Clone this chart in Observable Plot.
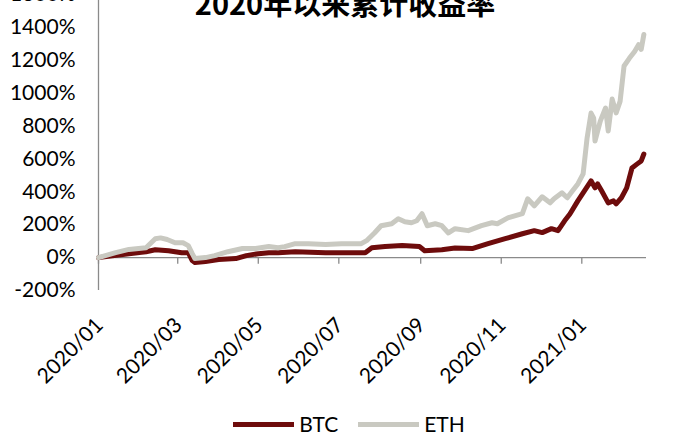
<!DOCTYPE html>
<html>
<head>
<meta charset="utf-8">
<script src="https://cdn.jsdelivr.net/npm/d3@7"></script>
<script src="https://cdn.jsdelivr.net/npm/@observablehq/plot@0.6"></script>
<style>
html, body { margin: 0; padding: 0; background: #fff; width: 698px; height: 444px; overflow: hidden; }
#wrap { position: relative; width: 698px; height: 444px; overflow: hidden; }
#title { position: absolute; left: 0; top: -12px; width: 690px; text-align: center;
  font-family: "Noto Sans CJK SC", sans-serif; font-weight: bold; font-size: 29px; line-height: 29px; color: #000; z-index: 2; }
#chart { position: absolute; left: 0; top: 0; }
#legend { position: absolute; left: 0; top: 411px; width: 698px; display: flex; justify-content: center; align-items: center;
  font-family: Lato, sans-serif; font-size: 21px; line-height: 26px; color: #000; }
.sw { display: inline-block; width: 61px; height: 5px; margin-right: 5px; }
.lab { margin-right: 20px; }
</style>
</head>
<body>
<div id="wrap">
  <div id="title">2020年以来累计收益率</div>
  <div id="chart"></div>
  <div id="legend"></div>
</div>
<script>
// ---- data ----
const seriesNames = ["BTC", "ETH"];
const seriesColors = ["#6e0c0c", "#c9c9c1"];

const btcDates = ["2020-01-01","2020-01-10","2020-01-24","2020-02-06","2020-02-13","2020-02-23","2020-03-04","2020-03-09","2020-03-12","2020-03-14","2020-03-22","2020-04-01","2020-04-14","2020-04-22","2020-05-01","2020-05-09","2020-05-16","2020-05-29","2020-06-21","2020-07-03","2020-07-21","2020-07-26","2020-08-05","2020-08-18","2020-08-31","2020-09-04","2020-09-17","2020-09-27","2020-10-10","2020-10-22","2020-11-04","2020-11-17","2020-11-26","2020-12-02","2020-12-09","2020-12-14","2020-12-19","2020-12-23","2020-12-29","2021-01-03","2021-01-08","2021-01-11","2021-01-13","2021-01-16","2021-01-21","2021-01-25","2021-01-27","2021-01-31","2021-02-04","2021-02-08","2021-02-12","2021-02-15","2021-02-17"];
const btcValues = [0,10,24,36,48,42,30,30,-18,-30,-24,-12,-6,12,24,30,30,36,30,30,30,60,67,73,67,42,48,58,55,85,115,145,164,152,176,164,224,265,345,406,467,424,448,406,333,345,327,364,424,545,570,588,630];

const ethDates = ["2020-01-01","2020-01-14","2020-01-24","2020-02-06","2020-02-13","2020-02-17","2020-02-22","2020-02-28","2020-03-05","2020-03-09","2020-03-12","2020-03-14","2020-03-22","2020-03-29","2020-04-08","2020-04-19","2020-04-29","2020-05-09","2020-05-16","2020-05-21","2020-05-29","2020-06-08","2020-06-21","2020-07-03","2020-07-18","2020-07-22","2020-07-28","2020-08-02","2020-08-10","2020-08-15","2020-08-20","2020-08-25","2020-08-29","2020-09-02","2020-09-06","2020-09-12","2020-09-17","2020-09-22","2020-09-27","2020-10-07","2020-10-17","2020-10-25","2020-10-29","2020-11-06","2020-11-17","2020-11-21","2020-11-26","2020-12-02","2020-12-08","2020-12-11","2020-12-17","2020-12-21","2020-12-25","2020-12-29","2021-01-02","2021-01-05","2021-01-08","2021-01-10","2021-01-11","2021-01-15","2021-01-19","2021-01-21","2021-01-24","2021-01-27","2021-01-30","2021-02-02","2021-02-06","2021-02-10","2021-02-13","2021-02-15","2021-02-17"];
const ethValues = [0,30,50,60,115,120,110,90,90,73,24,-6,0,12,36,55,55,67,60,67,85,85,80,85,85,103,150,194,206,236,218,212,224,267,194,206,194,150,176,164,194,212,206,242,267,358,315,370,333,358,394,364,406,448,509,727,879,848,709,830,910,770,964,880,950,1165,1212,1254,1295,1266,1357];

const xTickLabels = ["2020-01-01","2020-03-01","2020-05-01","2020-07-01","2020-09-01","2020-11-01","2021-01-01"];
const yTickValues = [-200,0,200,400,600,800,1000,1200,1400,1600];
const xDomain = ["2020-01-01","2021-02-19"];
const yDomain = [-200, 1600];

// ---- build ----
const parse = d3.utcParse("%Y-%m-%d");
const rows = [
  ...btcDates.map((d, i) => ({date: parse(d), value: btcValues[i], series: "BTC"})),
  ...ethDates.map((d, i) => ({date: parse(d), value: ethValues[i], series: "ETH"}))
];
const xTicks = xTickLabels.map(parse);
const xDom = xDomain.map(parse);

const chart = Plot.plot({
  width: 698,
  height: 444,
  marginLeft: 98,
  marginRight: 52,
  marginTop: 0,
  marginBottom: 154,
  style: {fontFamily: "Lato, sans-serif", fontSize: "21px", color: "#000", background: "transparent", overflow: "visible"},
  x: {type: "utc", domain: xDom, label: null},
  y: {domain: yDomain, range: [290, -6], label: null},
  color: {domain: seriesNames, range: seriesColors},
  marks: [
    Plot.ruleX([xDom[0]], {y1: yDomain[0], y2: yDomain[1], stroke: "#8a8a8a", strokeWidth: 1.3}),
    Plot.ruleY([0], {stroke: "#8a8a8a", strokeWidth: 1.3}),
    Plot.ruleX(xTicks, {y1: 0, y2: -40, stroke: "#8a8a8a", strokeWidth: 1.3}),
    Plot.axisY({ticks: yTickValues, tickSize: 0, tickPadding: 23, tickFormat: d => d + "%", fontSize: 21, label: null}),
    Plot.axisX({ticks: xTicks, tickSize: 0, tickPadding: 31, tickRotate: -45, tickFormat: d3.utcFormat("%Y/%m"), fontSize: 21, dx: 1, label: null}),
    Plot.line(rows, {x: "date", y: "value", z: "series", stroke: "series", strokeWidth: 5, strokeLinejoin: "round", strokeLinecap: "round"})
  ]
});
document.getElementById("chart").appendChild(chart);

const legend = document.getElementById("legend");
seriesNames.forEach((name, i) => {
  const sw = document.createElement("span");
  sw.className = "sw";
  sw.style.background = seriesColors[i];
  const lab = document.createElement("span");
  lab.className = "lab";
  lab.textContent = name;
  if (i === seriesNames.length - 1) lab.style.marginRight = "0";
  legend.appendChild(sw);
  legend.appendChild(lab);
});
</script>
</body>
</html>
